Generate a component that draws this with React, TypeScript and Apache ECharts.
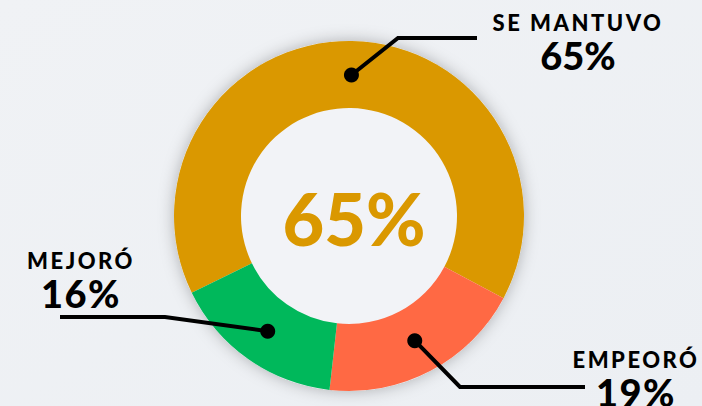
import React, { useEffect, useRef } from "react";
import * as echarts from "echarts";

// ---- data ----
const categories = ["SE MANTUVO", "EMPEORÓ", "MEJORÓ"];
const values = [65, 19, 16];
const valueLabels = ["65%", "19%", "16%"];
const colors = ["#DA9800", "#FF6944", "#00B85B"];
const centerIndex = 0;

// ---- layout ----
const W = 702;
const H = 406;
const CX = 349;
const CY = 216;
const R_IN = 108;
const R_OUT = 175;
const START = 206;
const DOT_R = 141;
const FONT = "Lato, 'Noto Sans', sans-serif";

const labelPos = [
  { elbow: [398, 38], end: [477, 38], x: 578, nameY: 22, valueY: 55 },
  { elbow: [460, 387], end: [585, 387], x: 636, nameY: 359, valueY: 392 },
  { elbow: [165, 317], end: [60, 317], x: 81, nameY: 260, valueY: 293 },
];

export default function App() {
  const ref = useRef<HTMLDivElement>(null);
  useEffect(() => {
    if (!ref.current) return;
    const chart = echarts.init(ref.current, undefined, { renderer: "svg", width: W, height: H });
    const total = values.reduce((a, b) => a + b, 0);
    let cum = 0;
    const graphics: any[] = [];
    values.forEach((v, i) => {
      const mid = START - ((cum + v / 2) / total) * 360;
      cum += v;
      const rad = (mid * Math.PI) / 180;
      const dx = CX + DOT_R * Math.cos(rad);
      const dy = CY - DOT_R * Math.sin(rad);
      const p = labelPos[i];
      graphics.push({
        type: "polyline",
        z: 10,
        shape: { points: [[dx, dy], p.elbow, p.end] },
        style: { stroke: "#000", lineWidth: 4, fill: null, lineJoin: "miter" },
      });
      graphics.push({
        type: "circle",
        z: 11,
        shape: { cx: dx, cy: dy, r: 7.5 },
        style: { fill: "#000" },
      });
      graphics.push({
        type: "text",
        z: 11,
        x: p.x,
        y: p.nameY,
        style: {
          text: categories[i],
          font: `900 22px ${FONT}`,
          lineHeight: 22,
          fill: "#000",
          textAlign: "center",
          textVerticalAlign: "middle",
        },
      });
      graphics.push({
        type: "text",
        z: 11,
        x: p.x,
        y: p.valueY,
        style: {
          text: valueLabels[i],
          font: `900 38px ${FONT}`,
          lineHeight: 36,
          fill: "#000",
          textAlign: "center",
          textVerticalAlign: "middle",
        },
      });
    });
    graphics.push({
      type: "text",
      z: 11,
      x: CX + 5,
      y: CY + 2,
      style: {
        text: valueLabels[centerIndex],
        font: `900 72px ${FONT}`,
        fill: colors[centerIndex],
        textAlign: "center",
        textVerticalAlign: "middle",
      },
    });

    chart.setOption({
      animation: false,
      backgroundColor: {
        type: "linear",
        x: 0,
        y: 0,
        x2: 1,
        y2: 1,
        colorStops: [
          { offset: 0, color: "#f0f2f5" },
          { offset: 1, color: "#eceff3" },
        ],
      },
      series: [
        {
          type: "pie",
          silent: true,
          z: 1,
          center: [CX, CY],
          radius: [0, R_OUT],
          label: { show: false },
          labelLine: { show: false },
          itemStyle: {
            color: "#f2f3f7",
            shadowBlur: 16,
            shadowColor: "rgba(0,0,0,0.28)",
          },
          data: [{ value: 1, name: "bg" }],
        },
        {
          type: "pie",
          silent: true,
          z: 2,
          center: [CX, CY],
          radius: [R_IN, R_OUT],
          startAngle: START,
          clockwise: true,
          label: { show: false },
          labelLine: { show: false },
          data: categories.map((c, i) => ({
            name: c,
            value: values[i],
            itemStyle: { color: colors[i] },
          })),
        },
      ],
      graphic: { elements: graphics },
    });

    const root = ref.current;
    root.querySelectorAll("text").forEach((t) => {
      const s = t.textContent || "";
      if (categories.includes(s)) t.setAttribute("letter-spacing", "2.5");
      else if (s.endsWith("%") && s !== valueLabels[centerIndex]) t.setAttribute("letter-spacing", "1.5");
    });
    return () => chart.dispose();
  }, []);
  return <div ref={ref} style={{ position: "fixed", left: 0, top: 0, width: W, height: H }} />;
}
